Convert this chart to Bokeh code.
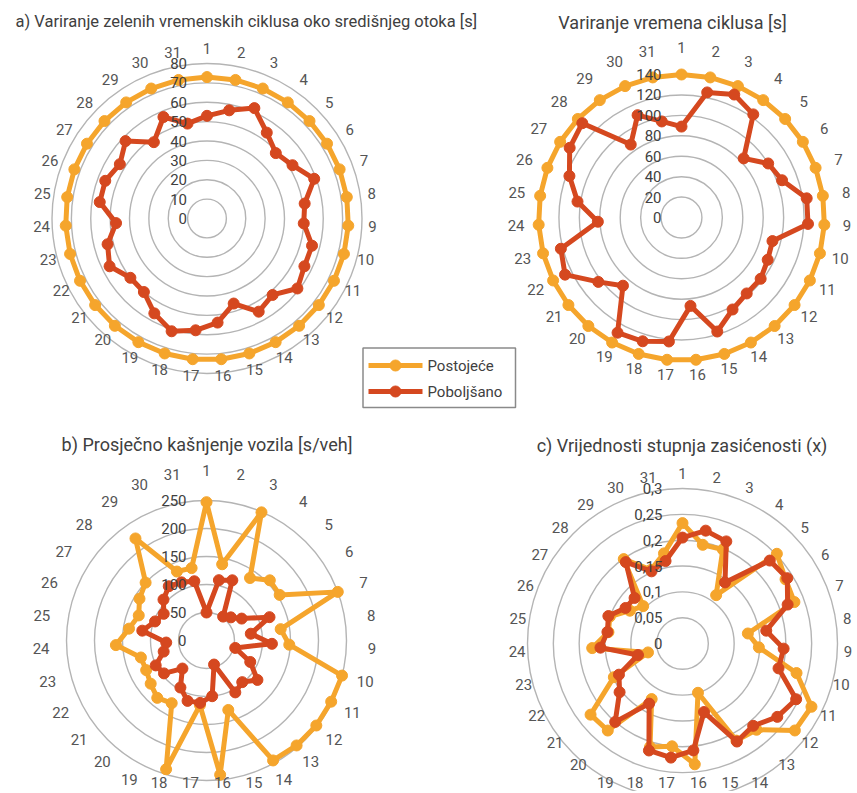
import numpy as np
from bokeh.plotting import figure
from bokeh.models import Range1d
from bokeh.core.properties import value
from bokeh.embed import file_html
from bokeh.resources import INLINE

# ---------------- data ----------------
categories = [str(i) for i in range(1, 32)]

series_names = ["Postojeće", "Poboljšano"]

green_existing = [73, 73, 73, 73, 73, 73, 73, 73, 73, 73, 73, 73, 73, 73, 73, 73,
                  73, 73, 73, 73, 73, 73, 73, 73, 73, 73, 73, 73, 73, 73, 73]
green_improved = [53, 57, 62, 54, 49, 52, 59, 51, 50, 56, 56, 59, 52, 55, 46, 54,
                  58, 61, 56, 50, 50, 56, 53, 47, 56, 56, 53, 58, 48, 57, 50]
green_ticks = [0, 10, 20, 30, 40, 50, 60, 70, 80]
green_tick_labels = ["0", "10", "20", "30", "40", "50", "60", "70", "80"]

cycle_existing = [140, 140, 140, 140, 140, 140, 140, 140, 140, 140, 140, 140, 140, 140, 140, 140,
                  140, 140, 140, 140, 140, 140, 140, 140, 140, 140, 140, 140, 140, 140, 140]
cycle_improved = [89, 125, 131, 123, 84, 100, 105, 124, 124, 92, 94, 98, 98, 103, 117, 87,
                  122, 127, 129, 88, 103, 127, 122, 82, 103, 117, 129, 134, 87, 109, 96]
cycle_ticks = [0, 20, 40, 60, 80, 100, 120, 140]
cycle_tick_labels = ["0", "20", "40", "60", "80", "100", "120", "140"]

delay_existing = [247, 139, 249, 136, 156, 154, 250, 134, 148, 250, 248, 248, 247, 245, 130, 241,
                  116, 241, 128, 135, 126, 120, 121, 162, 140, 129, 141, 150, 222, 134, 132]
delay_improved = [50, 110, 117, 52, 60, 74, 120, 80, 117, 53, 87, 115, 98, 106, 45, 100,
                  112, 113, 96, 66, 96, 101, 79, 72, 116, 98, 90, 106, 118, 113, 108]
delay_ticks = [0, 50, 100, 150, 200, 250]
delay_tick_labels = ["0", "50", "100", "150", "200", "250"]

sat_existing = [0.233, 0.195, 0.198, 0.114, 0.252, 0.235, 0.231, 0.128, 0.148, 0.228, 0.278,
                0.275, 0.22, 0.215, 0.100, 0.235, 0.200, 0.210, 0.123, 0.222, 0.225, 0.148,
                0.069, 0.175, 0.145, 0.150, 0.120, 0.105, 0.199, 0.155, 0.178]
sat_improved = [0.205, 0.223, 0.215, 0.144, 0.233, 0.239, 0.217, 0.164, 0.196, 0.192, 0.245,
                0.232, 0.210, 0.217, 0.139, 0.208, 0.222, 0.217, 0.133, 0.200, 0.154, 0.137,
                0.089, 0.159, 0.147, 0.153, 0.130, 0.128, 0.192, 0.152, 0.163]
sat_ticks = [0, 0.05, 0.1, 0.15, 0.2, 0.25, 0.3]
sat_tick_labels = ["0", "0,05", "0,1", "0,15", "0,2", "0,25", "0,3"]

titles = ["a) Variranje zelenih vremenskih ciklusa oko središnjeg otoka [s]",
          "Variranje vremena ciklusa [s]",
          "b) Prosječno kašnjenje vozila [s/veh]",
          "c) Vrijednosti stupnja zasićenosti (x)"]

# ---------------- style / layout ----------------
FONT = "Roboto"
ORANGE = "#F5A52C"
RED = "#D5481F"
GRID = "#B4B4B4"
TXT = "#404040"
W, H = 855, 791

p = figure(width=W, height=H, x_range=Range1d(0, W), y_range=Range1d(H, 0),
           output_backend="svg", toolbar_location=None,
           x_axis_type=None, y_axis_type=None, min_border=0)
p.grid.visible = False
p.outline_line_color = None
p.background_fill_color = "white"
p.border_fill_color = "white"

charts = [
    dict(cx=206.5, cy=218.0, R=155.0, ticks=green_ticks, labels=green_tick_labels,
         ex=green_existing, im=green_improved),
    dict(cx=681.0, cy=217.0, R=143.0, ticks=cycle_ticks, labels=cycle_tick_labels,
         ex=cycle_existing, im=cycle_improved),
    dict(cx=206.0, cy=640.0, R=140.0, ticks=delay_ticks, labels=delay_tick_labels,
         ex=delay_existing, im=delay_improved),
    dict(cx=682.0, cy=643.0, R=155.0, ticks=sat_ticks, labels=sat_tick_labels,
         ex=sat_existing, im=sat_improved),
]

n = len(categories)
theta = np.arange(n) * 2 * np.pi / n

for ch in charts:
    cx, cy, R = ch["cx"], ch["cy"], ch["R"]
    vmax = ch["ticks"][-1]
    ring_r = [t / vmax * R for t in ch["ticks"] if t > 0]
    p.circle(x=[cx] * len(ring_r), y=[cy] * len(ring_r), radius=ring_r,
             fill_color=None, line_color=GRID, line_width=1.4)
    for vals, col in ((ch["ex"], ORANGE), (ch["im"], RED)):
        r = np.array(vals, dtype=float) / vmax * R
        xs = cx + r * np.sin(theta)
        ys = cy - r * np.cos(theta)
        p.line(np.append(xs, xs[0]), np.append(ys, ys[0]), line_color=col,
               line_width=5, line_join="round")
        p.scatter(xs, ys, size=11, fill_color=col, line_color=col)
    # value axis labels
    p.text(x=[cx - 20] * len(ch["ticks"]), y=[cy - t / vmax * R for t in ch["ticks"]],
           text=ch["labels"], text_align="right", text_baseline="middle",
           text_font=value(FONT), text_font_size="15px", text_color=TXT)
    # category labels
    c = np.cos(theta)
    rl = np.where(c > 0, 166 + 4 * c, 166 + 8 * c)
    ly = np.minimum(cy - rl * np.cos(theta), H - 9)
    p.text(x=cx + rl * np.sin(theta), y=ly, text=categories,
           text_align="center", text_baseline="middle",
           text_font=value(FONT), text_font_size="15px", text_color="#555555")

# titles
p.text(x=[15], y=[21], text=[titles[0]], text_align="left", text_baseline="middle",
       text_font=value(FONT), text_font_size="16.5px", text_color=TXT)
p.text(x=[672, 206.5, 681.5], y=[22, 444, 445], text=titles[1:], text_align="center",
       text_baseline="middle", text_font=value(FONT), text_font_size="18px", text_color=TXT)

# legend
p.quad(left=[362.5], right=[515], top=[347.5], bottom=[407], fill_color="white",
       line_color="#8A8A8A", line_width=1.5)
for yy, col, name in ((365, ORANGE, series_names[0]), (391, RED, series_names[1])):
    p.line([368, 422], [yy, yy], line_color=col, line_width=5)
    p.scatter([395], [yy], size=11, fill_color=col, line_color=col)
    p.text(x=[427], y=[yy], text=[name], text_align="left", text_baseline="middle",
           text_font=value(FONT), text_font_size="15px", text_color=TXT)

open("out.html", "w").write(file_html(p, INLINE))
